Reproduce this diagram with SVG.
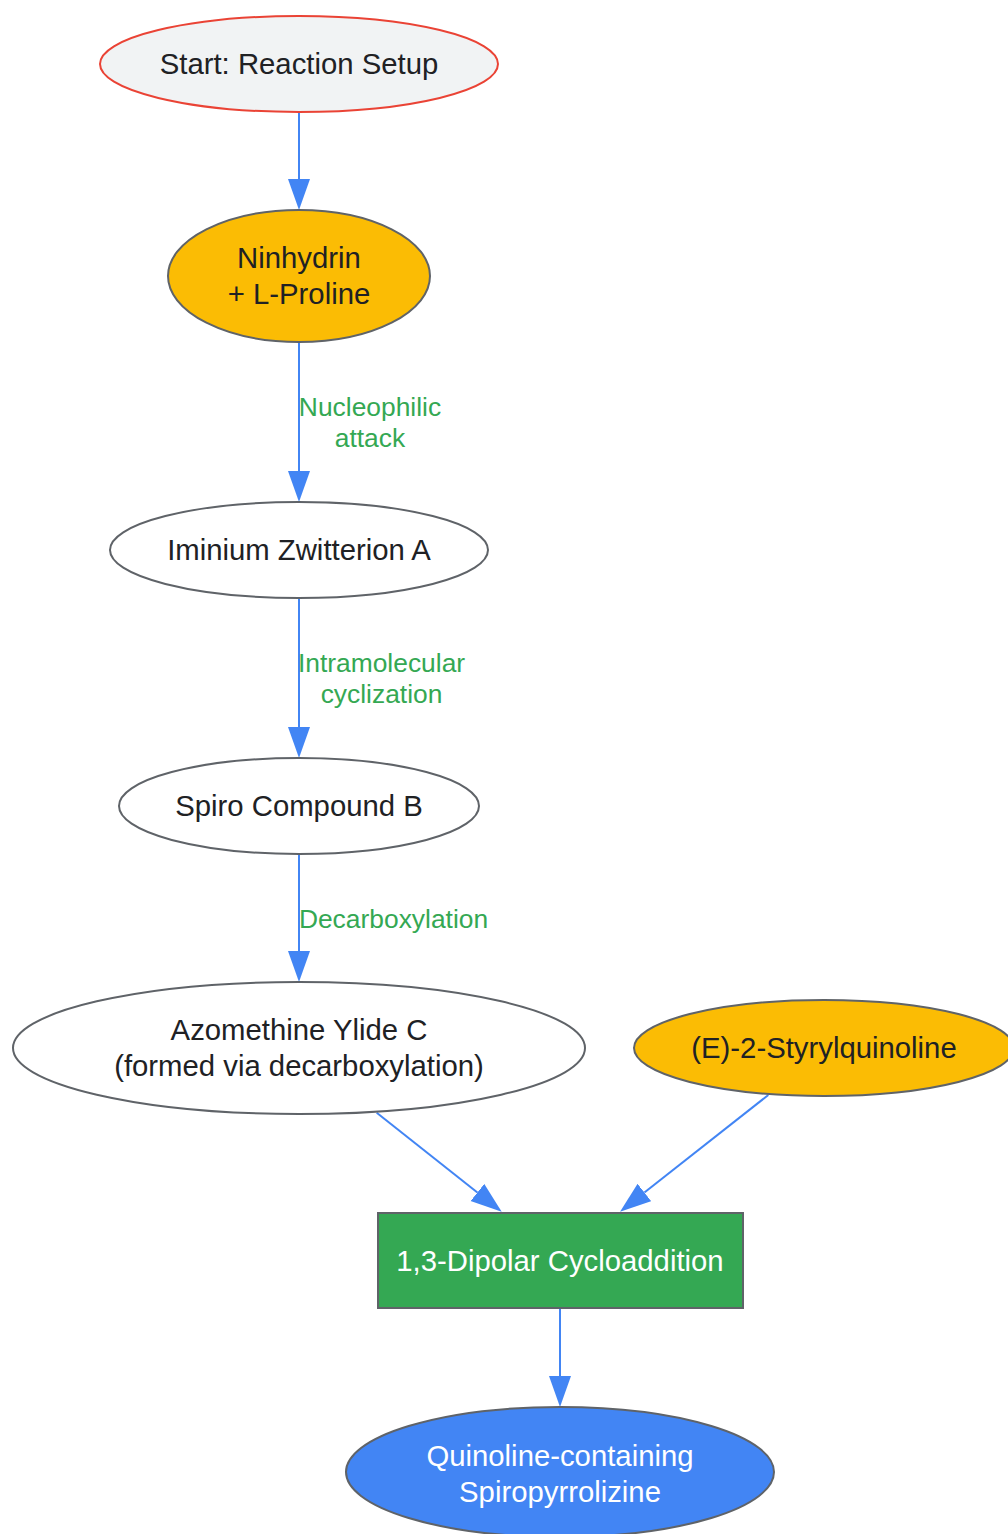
<svg xmlns="http://www.w3.org/2000/svg" width="1008" height="1534" viewBox="0 0 1008 1534">
<style>
.node{stroke:#5F6368;stroke-width:2}
.t{font-family:"Liberation Sans",Arial,sans-serif;font-size:29.3px;fill:#202124;text-anchor:middle}
.w{fill:#FFFFFF}
.e{stroke:#4285F4;stroke-width:2;fill:none}
.lbl{font-family:"Liberation Sans",Arial,sans-serif;font-size:26.4px;fill:#34A853;text-anchor:middle}
</style>
<defs>
<marker id="arr" markerUnits="userSpaceOnUse" markerWidth="32" markerHeight="24" refX="0" refY="11" orient="auto">
<path d="M0,0 L31,11 L0,22 Z" fill="#4285F4"/>
</marker>
</defs>
<rect width="1008" height="1534" fill="#FFFFFF"/>
<g id="connectors">
<line class="e" x1="299" y1="112" x2="299" y2="179" marker-end="url(#arr)"/>
<line class="e" x1="299" y1="342" x2="299" y2="471" marker-end="url(#arr)"/>
<line class="e" x1="299" y1="598" x2="299" y2="727" marker-end="url(#arr)"/>
<line class="e" x1="299" y1="854" x2="299" y2="951" marker-end="url(#arr)"/>
<line class="e" x1="376.7" y1="1112.7" x2="477.4" y2="1192.5" marker-end="url(#arr)"/>
<line class="e" x1="768.3" y1="1095" x2="644.4" y2="1192.5" marker-end="url(#arr)"/>
<line class="e" x1="560" y1="1308" x2="560" y2="1376" marker-end="url(#arr)"/>
<text class="lbl" x="370" y="416">Nucleophilic</text>
<text class="lbl" x="370" y="447">attack</text>
<text class="lbl" x="381.5" y="672">Intramolecular</text>
<text class="lbl" x="381.5" y="703">cyclization</text>
<text class="lbl" x="393.5" y="928">Decarboxylation</text>
</g>
<g id="start">
<ellipse cx="299" cy="64" rx="199" ry="48" fill="#F1F3F4" stroke="#EA4335" stroke-width="2"/>
<text class="t" x="299" y="74">Start: Reaction Setup</text>
</g>
<g id="ninhydrin">
<ellipse class="node" cx="299" cy="276" rx="131" ry="66" fill="#FBBC04"/>
<text class="t" x="299" y="268">Ninhydrin</text>
<text class="t" x="299" y="304">+ L-Proline</text>
</g>
<g id="iminium">
<ellipse class="node" cx="299" cy="550" rx="189" ry="48" fill="#FFFFFF"/>
<text class="t" x="299" y="560">Iminium Zwitterion A</text>
</g>
<g id="spiro">
<ellipse class="node" cx="299" cy="806" rx="180" ry="48" fill="#FFFFFF"/>
<text class="t" x="299" y="816">Spiro Compound B</text>
</g>
<g id="azomethine">
<ellipse class="node" cx="299" cy="1048" rx="286" ry="66" fill="#FFFFFF"/>
<text class="t" x="299" y="1040">Azomethine Ylide C</text>
<text class="t" x="299" y="1076">(formed via decarboxylation)</text>
</g>
<g id="styrylquinoline">
<ellipse class="node" cx="824" cy="1048" rx="190" ry="48" fill="#FBBC04"/>
<text class="t" x="824" y="1058">(E)-2-Styrylquinoline</text>
</g>
<g id="cycloaddition">
<rect class="node" x="378" y="1213" width="365" height="95" fill="#34A853"/>
<text class="t w" x="560" y="1271">1,3-Dipolar Cycloaddition</text>
</g>
<g id="product">
<ellipse class="node" cx="560" cy="1472" rx="214" ry="65" fill="#4285F4"/>
<text class="t w" x="560" y="1466">Quinoline-containing</text>
<text class="t w" x="560" y="1502">Spiropyrrolizine</text>
</g>
</svg>
